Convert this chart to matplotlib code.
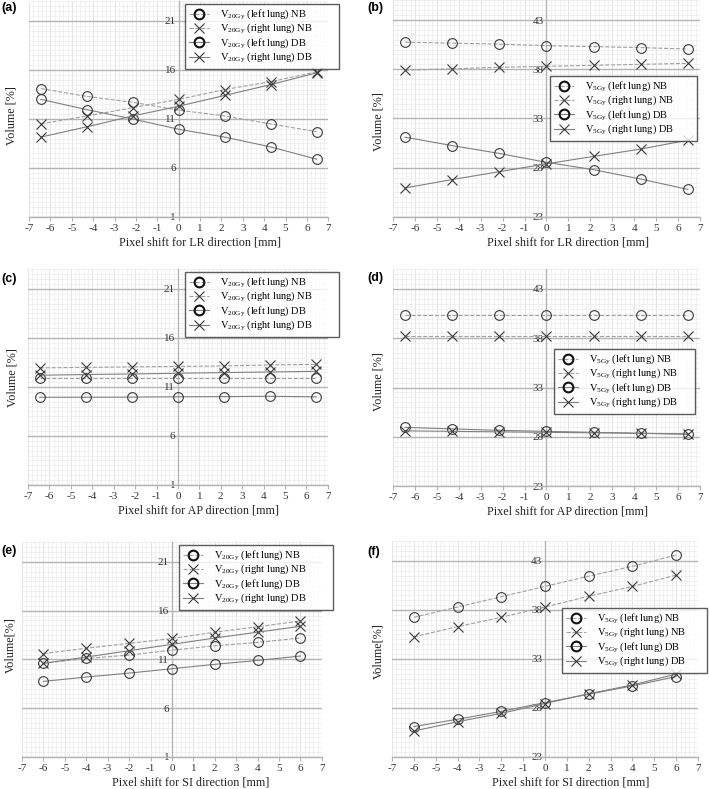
import matplotlib
matplotlib.use("Agg")
import matplotlib.pyplot as plt
from matplotlib.ticker import MultipleLocator

plt.rcParams['font.family'] = ['Liberation Serif', 'DejaVu Serif']
plt.rcParams['mathtext.fontset'] = 'custom'
plt.rcParams['mathtext.rm'] = 'Liberation Serif'
plt.rcParams['axes.unicode_minus'] = False

# ---------------- data ----------------
x_lr = [-6.45, -4.3, -2.15, 0, 2.15, 4.3, 6.45]
x_ap = [-6.45, -4.3, -2.15, 0, 2.15, 4.3, 6.45]
x_si = [-6, -4, -2, 0, 2, 4, 6]

a_left_nb = [14.1, 13.3, 12.7, 11.9, 11.3, 10.5, 9.7]
a_right_nb = [10.5, 11.3, 12.15, 13.0, 14.0, 14.8, 15.8]
a_left_db = [13.0, 11.95, 11.0, 9.95, 9.15, 8.15, 6.9]
a_right_db = [9.15, 10.2, 11.3, 12.3, 13.4, 14.5, 15.7]

b_left_nb = [40.75, 40.65, 40.55, 40.4, 40.3, 40.2, 40.05]
b_right_nb = [37.9, 38.05, 38.2, 38.3, 38.4, 38.5, 38.6]
b_left_db = [31.1, 30.25, 29.45, 28.55, 27.8, 26.85, 25.8]
b_right_db = [25.95, 26.8, 27.6, 28.4, 29.15, 29.9, 30.8]

c_left_nb = [11.9, 11.9, 11.9, 11.9, 11.9, 11.9, 11.9]
c_right_nb = [12.95, 13.0, 13.05, 13.1, 13.15, 13.25, 13.3]
c_left_db = [9.95, 9.95, 9.97, 10.0, 10.02, 10.05, 10.0]
c_right_db = [12.2, 12.27, 12.33, 12.4, 12.47, 12.53, 12.6]

d_left_nb = [40.4, 40.4, 40.4, 40.4, 40.4, 40.4, 40.4]
d_right_nb = [38.25, 38.25, 38.25, 38.25, 38.25, 38.25, 38.25]
d_left_db = [28.95, 28.8, 28.65, 28.55, 28.45, 28.35, 28.25]
d_right_db = [28.6, 28.55, 28.5, 28.45, 28.4, 28.35, 28.3]

e_left_nb = [10.6, 11.1, 11.45, 11.95, 12.4, 12.75, 13.2]
e_right_nb = [11.6, 12.15, 12.65, 13.15, 13.8, 14.35, 14.95]
e_left_db = [8.75, 9.2, 9.6, 10.05, 10.5, 10.9, 11.35]
e_right_db = [10.6, 11.25, 11.9, 12.55, 13.2, 13.8, 14.4]

f_left_nb = [37.25, 38.3, 39.35, 40.4, 41.45, 42.45, 43.6]
f_right_nb = [35.25, 36.3, 37.25, 38.3, 39.4, 40.4, 41.55]
f_left_db = [26.1, 26.85, 27.65, 28.55, 29.4, 30.25, 31.2]
f_right_db = [25.65, 26.6, 27.45, 28.45, 29.45, 30.35, 31.45]

x_ticks = [-7, -6, -5, -4, -3, -2, -1, 0, 1, 2, 3, 4, 5, 6, 7]
y_ticks_20 = [1, 6, 11, 16, 21]
y_ticks_5 = [23, 28, 33, 38, 43]

W, H = 709, 789
fig = plt.figure(figsize=(W / 100, H / 100), dpi=100)

MK = '#3a3a3a'
DASH = '#a0a0a0'
SOLID = '#808080'


def panel(rect, x, series, dose, yticks, ylim, xdir, ylabel, ylab_xy, xlab_x,
          leg_box, tag, tag_xy):
    ax = fig.add_axes(rect)
    names = ["(left lung) NB", "(right lung) NB", "(left lung) DB", "(right lung) DB"]
    styles = [('o', '--', DASH), ('x', '--', DASH), ('o', '-', SOLID), ('x', '-', SOLID)]
    for ys, nm, (m, ls, c) in zip(series, names, styles):
        ax.plot(x, ys, linestyle=ls, color=c, lw=0.8, marker=m,
                markersize=7, markerfacecolor='none',
                markeredgecolor=MK, markeredgewidth=0.8,
                label=r"V$_{\mathrm{" + dose + r"}}$ " + nm, zorder=4)
    ax.set_xlim(-7, 7)
    ax.set_ylim(*ylim)
    ax.set_xticks(x_ticks)
    ax.set_xticklabels([str(t) for t in x_ticks])
    ax.set_yticks(yticks)
    ax.set_yticklabels([str(t) for t in yticks])
    ax.xaxis.set_minor_locator(MultipleLocator(0.2))
    ax.yaxis.set_minor_locator(MultipleLocator(0.5))
    ax.grid(which='minor', color='#ebebeb', lw=0.5)
    ax.grid(which='major', axis='x', color='#dedede', lw=0.6)
    ax.grid(which='major', axis='y', color='#b4b4b4', lw=1.0)
    ax.set_axisbelow(True)
    for s in ['top', 'right']:
        ax.spines[s].set_visible(False)
    ax.spines['left'].set_position(('data', 0))
    ax.spines['left'].set_color('#b4b4b4')
    ax.spines['left'].set_linewidth(1.0)
    ax.spines['bottom'].set_color('#b4b4b4')
    ax.spines['bottom'].set_linewidth(1.0)
    ax.tick_params(axis='y', length=0, pad=2, labelsize=8, labelcolor='#333333')
    ax.tick_params(axis='x', length=3, width=0.8, color='#b4b4b4', pad=2,
                   labelsize=8, labelcolor='#333333')
    ax.tick_params(which='minor', length=0)
    ax.set_xlabel("Pixel shift for " + xdir + " direction [mm]", fontsize=8.7,
                  color='#222222')
    ax.xaxis.set_label_coords(xlab_x, -0.09)
    ax.set_ylabel(ylabel, fontsize=8.7, color='#222222')
    ax.yaxis.set_label_coords(*ylab_xy)
    x0, y0, x1, y1 = leg_box
    leg = ax.legend(loc='upper left',
                    bbox_to_anchor=(x0 / W, 1 - y1 / H, (x1 - x0) / W, (y1 - y0) / H),
                    bbox_transform=fig.transFigure, mode='expand', borderaxespad=0,
                    fontsize=7.5, frameon=True, fancybox=False, edgecolor='#333333',
                    handlelength=2.0, handletextpad=1.0, labelspacing=0.0,
                    borderpad=0.35)
    leg.get_frame().set_linewidth(1.0)
    leg.set_zorder(10)
    for h in leg.legend_handles:
        if h.get_marker() == 'o':
            h.set_markeredgewidth(1.5)
            h.set_markeredgecolor('#111111')
    fig.text(tag_xy[0] / W, 1 - tag_xy[1] / H, tag, fontsize=9, fontweight='bold',
             family='Liberation Sans', ha='left', va='top')
    return ax


panel([0.041, 0.725, 0.422, 0.2733], x_lr,
      [a_left_nb, a_right_nb, a_left_db, a_right_db], "20Gy", y_ticks_20, (1, 23),
      "LR", "Volume [%]", (-0.037, 0.47), 0.57, (185, 4, 339, 65), "(a)", (1, 2))
panel([0.5543, 0.725, 0.433, 0.2746], x_lr,
      [b_left_nb, b_right_nb, b_left_db, b_right_db], "5Gy", y_ticks_5, (23, 45),
      "LR", "Volume [%]", (-0.029, 0.44), 0.57, (550, 76, 697, 137), "(b)", (367, 2))
panel([0.0395, 0.3853, 0.423, 0.2733], x_ap,
      [c_left_nb, c_right_nb, c_left_db, c_right_db], "20Gy", y_ticks_20, (1, 23),
      "AP", "Volume [%]", (-0.033, 0.5), 0.567, (185, 272, 339, 333), "(c)", (1, 273))
panel([0.5543, 0.384, 0.433, 0.2747], x_ap,
      [d_left_nb, d_right_nb, d_left_db, d_right_db], "5Gy", y_ticks_5, (23, 45),
      "AP", "Volume [%]", (-0.029, 0.48), 0.57, (554, 349, 695, 411), "(d)", (367, 272))
panel([0.031, 0.0406, 0.423, 0.2719], x_si,
      [e_left_nb, e_right_nb, e_left_db, e_right_db], "20Gy", y_ticks_20, (1, 23),
      "SI", "Volume[%]", (-0.02, 0.52), 0.563, (179, 545, 333, 607), "(e)", (1, 545))
panel([0.5529, 0.0406, 0.4316, 0.2733], x_si,
      [f_left_nb, f_right_nb, f_left_db, f_right_db], "5Gy", y_ticks_5, (23, 45),
      "SI", "Volume[%]", (-0.026, 0.49), 0.585, (562, 608, 707, 671), "(f)", (367, 546))

fig.savefig("out.png", dpi=100)
